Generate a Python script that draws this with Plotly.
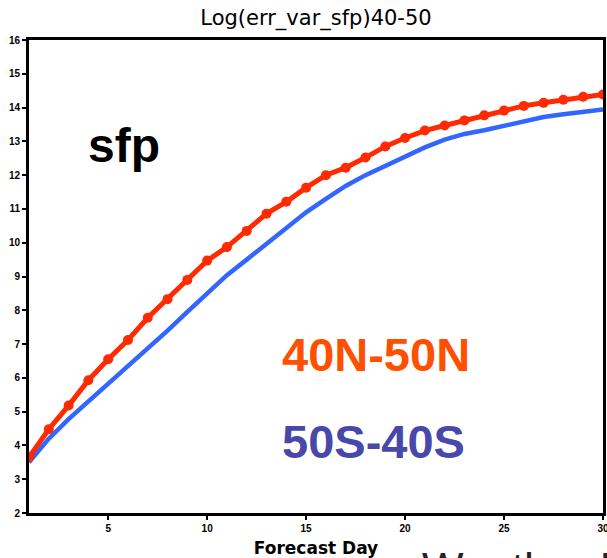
import plotly.graph_objects as go

days = list(range(1, 31))
north = [3.65, 4.48, 5.18, 5.93, 6.55, 7.12, 7.78, 8.33, 8.9, 9.47, 9.87, 10.35, 10.86, 11.21,
         11.63, 12.0, 12.22, 12.52, 12.85, 13.1, 13.32, 13.47, 13.62, 13.77, 13.91, 14.05,
         14.14, 14.23, 14.32, 14.39]
south = [3.5, 4.2, 4.78, 5.3, 5.8, 6.32, 6.86, 7.4, 7.95, 8.5, 9.04, 9.5, 9.96, 10.44,
         10.9, 11.3, 11.68, 12.0, 12.28, 12.54, 12.82, 13.05, 13.22, 13.33, 13.45, 13.6,
         13.72, 13.8, 13.88, 13.94]
x_ticks = [5, 10, 15, 20, 25, 30]
y_ticks = list(range(2, 17))

fig = go.Figure()
fig.add_trace(go.Scatter(x=days, y=south, mode="lines", line=dict(color="#3366FF", width=4.5),
                         showlegend=False))
fig.add_trace(go.Scatter(x=days, y=north, mode="lines+markers",
                         line=dict(color="#FF2A00", width=5),
                         marker=dict(color="#FF2A00", size=10), showlegend=False))

axis_common = dict(showline=True, linecolor="black", linewidth=3, mirror=True,
                   showgrid=False, zeroline=False, ticks="outside", ticklen=4,
                   tickwidth=1.5, tickcolor="black", automargin=False,
                   ticklabeloverflow="allow",
                   tickfont=dict(family="Liberation Sans", size=10, color="black", weight="bold"))

fig.update_xaxes(range=[1, 30], tickvals=x_ticks, ticktext=[str(t) for t in x_ticks],
                 title=dict(text="Forecast Day", standoff=14,
                            font=dict(family="DejaVu Sans", size=17, color="black", weight="bold")),
                 **axis_common)
fig.update_yaxes(range=[2, 16], tickvals=y_ticks, ticktext=[str(t) for t in y_ticks],
                 **axis_common)

def px_to_paper(px, py):
    return (px - 29) / 574, (513 - py) / 473

annots = []
x, y = px_to_paper(124, 145)
annots.append(dict(text="sfp", x=x, y=y, font=dict(family="Liberation Sans", size=48,
                   color="black", weight="bold")))
x, y = px_to_paper(376, 354)
annots.append(dict(text="40N-50N", x=x, y=y, font=dict(family="Liberation Sans", size=47,
                   color="#FF5000", weight="bold")))
x, y = px_to_paper(374, 441)
annots.append(dict(text="50S-40S", x=x, y=y, font=dict(family="Liberation Sans", size=47,
                   color="#4848AA", weight="bold")))
x, y = px_to_paper(420, 542)
annots.append(dict(text="Weather Prediction", x=x, y=y, xanchor="left", yanchor="top",
                   font=dict(family="Liberation Sans", size=44, color="#222222")))
for a in annots:
    a.update(xref="paper", yref="paper", showarrow=False)
    a.setdefault("xanchor", "center")
    a.setdefault("yanchor", "middle")

fig.update_layout(
    width=607, height=558,
    margin=dict(l=29, r=4, t=40, b=45),
    paper_bgcolor="white", plot_bgcolor="white",
    title=dict(text="Log(err_var_sfp)40-50", x=0.5, xanchor="center", xref="paper",
               y=1 - 18 / 558, yanchor="middle",
               font=dict(family="DejaVu Sans", size=21, color="black")),
    annotations=annots,
)

fig.write_html("out.html")
